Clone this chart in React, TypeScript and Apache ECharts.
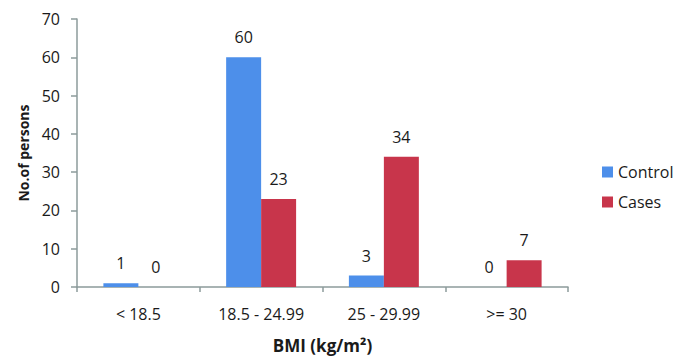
import React, { useEffect, useRef } from "react";
import * as echarts from "echarts";

const categories = ["< 18.5", "18.5 - 24.99", "25 - 29.99", ">= 30"];
const controlValues = [1, 60, 3, 0];
const casesValues = [0, 23, 34, 7];
const seriesNames = ["Control", "Cases"];

const FONT = "'Open Sans', sans-serif";
const AXIS_COLOR = "#8c9b9b";

export default function App() {
  const ref = useRef<HTMLDivElement>(null);
  useEffect(() => {
    if (!ref.current) return;
    const chart = echarts.init(ref.current, null, { renderer: "svg" });
    const label = {
      show: true,
      position: "top",
      distance: 12,
      color: "#1a1a1a",
      fontSize: 16,
      fontFamily: FONT,
    };
    chart.setOption({
      animation: false,
      backgroundColor: "#ffffff",
      textStyle: { fontFamily: FONT },
      grid: { left: 77, right: 121, top: 19, bottom: 65, containLabel: false },
      legend: {
        orient: "vertical",
        left: 597,
        top: 159,
        itemWidth: 11,
        itemHeight: 11,
        itemGap: 14,
        icon: "rect",
        textStyle: { fontSize: 16, color: "#1a1a1a", fontFamily: FONT },
        data: seriesNames,
      },
      xAxis: {
        type: "category",
        data: categories,
        name: "BMI (kg/m²)",
        nameLocation: "middle",
        nameGap: 50,
        nameTextStyle: { fontSize: 17, fontWeight: "bold", color: "#1a1a1a", fontFamily: FONT },
        axisLine: { lineStyle: { color: AXIS_COLOR, width: 1.5 } },
        axisTick: { show: true, length: 5, lineStyle: { color: AXIS_COLOR, width: 1.5 } },
        axisLabel: { fontSize: 16, color: "#1a1a1a", margin: 19, fontFamily: FONT },
        splitLine: { show: false },
      },
      yAxis: {
        type: "value",
        min: 0,
        max: 70,
        interval: 10,
        name: "No.of persons",
        nameLocation: "middle",
        nameGap: 46,
        nameRotate: 90,
        nameTextStyle: { fontSize: 14, fontWeight: "bold", color: "#1a1a1a", fontFamily: FONT },
        axisLine: { show: true, lineStyle: { color: AXIS_COLOR, width: 1.5 } },
        axisTick: { show: true, length: 6, lineStyle: { color: AXIS_COLOR, width: 1.5 } },
        axisLabel: { fontSize: 16, color: "#1a1a1a", margin: 17, fontFamily: FONT },
        splitLine: { show: false },
      },
      series: [
        {
          name: seriesNames[0],
          type: "bar",
          data: controlValues,
          barWidth: "28.5%",
          barGap: "0%",
          itemStyle: { color: "#4d8fea" },
          label,
        },
        {
          name: seriesNames[1],
          type: "bar",
          data: casesValues,
          barWidth: "28.5%",
          barGap: "0%",
          itemStyle: { color: "#c8354b" },
          label,
        },
      ],
    });
    return () => chart.dispose();
  }, []);
  return <div ref={ref} style={{ width: 689, height: 359, position: "absolute", left: 0, top: 0 }} />;
}
